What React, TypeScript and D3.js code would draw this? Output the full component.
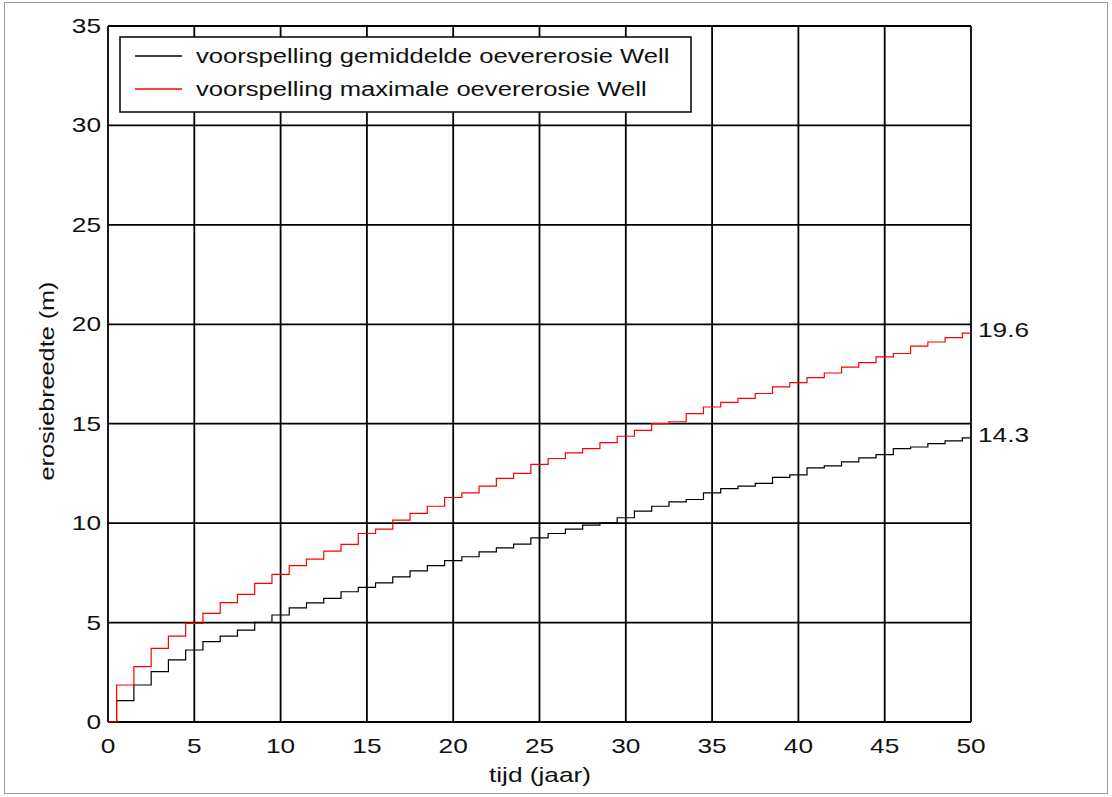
import React from "react";
import * as d3 from "d3";

// jaren (x)
const tijd = [
  0, 1, 2, 3, 4, 5, 6, 7, 8, 9, 10, 11, 12, 13, 14, 15, 16, 17, 18, 19, 20,
  21, 22, 23, 24, 25, 26, 27, 28, 29, 30, 31, 32, 33, 34, 35, 36, 37, 38, 39,
  40, 41, 42, 43, 44, 45, 46, 47, 48, 49, 50,
];

// voorspelling gemiddelde oevererosie (m)
const gemiddeld = [
  0, 1.07, 1.86, 2.53, 3.12, 3.62, 4.04, 4.32, 4.62, 5.01, 5.38, 5.74, 5.99,
  6.22, 6.55, 6.77, 7.0, 7.3, 7.6, 7.86, 8.12, 8.31, 8.56, 8.76, 8.94, 9.26,
  9.48, 9.7, 9.9, 10.02, 10.27, 10.6, 10.85, 11.07, 11.19, 11.52, 11.74, 11.86,
  12.0, 12.3, 12.43, 12.78, 12.88, 13.08, 13.28, 13.45, 13.75, 13.83, 14.0,
  14.14, 14.29,
];

// voorspelling maximale oevererosie (m)
const maximaal = [
  0, 1.86, 2.78, 3.7, 4.32, 4.96, 5.46, 6.0, 6.42, 6.97, 7.42, 7.86, 8.19,
  8.59, 8.93, 9.48, 9.7, 10.15, 10.49, 10.85, 11.29, 11.52, 11.86, 12.25, 12.5,
  12.96, 13.25, 13.53, 13.75, 14.05, 14.37, 14.67, 15.0, 15.1, 15.51, 15.84,
  16.07, 16.27, 16.52, 16.85, 17.07, 17.32, 17.55, 17.85, 18.07, 18.36, 18.53,
  18.9, 19.11, 19.33, 19.56,
];

const xTicks = [0, 5, 10, 15, 20, 25, 30, 35, 40, 45, 50];
const yTicks = [0, 5, 10, 15, 20, 25, 30, 35];
const legendLabels = [
  "voorspelling gemiddelde oevererosie Well",
  "voorspelling maximale oevererosie Well",
];
const endLabels = ["14.3", "19.6"];

const FONT = "'Liberation Sans', Arial, sans-serif";

// stretched text, the original looks horizontally widened
const T = ({ x, y, anchor = "start", sx = 1.25, rotate = 0, children }: any) => (
  <text
    transform={`translate(${x},${y}) rotate(${rotate}) scale(${sx},1)`}
    textAnchor={anchor}
    fontFamily={FONT}
    fontSize={21}
    fill="#111"
  >
    {children}
  </text>
);

export default function App() {
  const width = 1112;
  const height = 797;

  const x = d3.scaleLinear().domain([0, 50]).range([108, 971]);
  const y = d3.scaleLinear().domain([0, 35]).range([722, 26]);

  const line = d3
    .line<number>()
    .x((d, i) => x(tijd[i]))
    .y((d) => y(d))
    .curve(d3.curveStep);

  const series = [
    { values: gemiddeld, color: "#000", label: legendLabels[0], end: endLabels[0] },
    { values: maximaal, color: "#ff0000", label: legendLabels[1], end: endLabels[1] },
  ];

  return (
    <div style={{ position: "absolute", left: 0, top: 0 }}>
      <svg width={width} height={height} style={{ display: "block", background: "#fff" }}>
        {/* outer frame of the picture */}
        <rect x={4.5} y={2.5} width={1103} height={791} fill="none" stroke="#9a9a9a" strokeWidth={1} />

        {/* grid */}
        {xTicks.map((t) => (
          <line key={"gx" + t} x1={x(t)} x2={x(t)} y1={y(0)} y2={y(35)} stroke="#000" strokeWidth={1.8} />
        ))}
        {yTicks.map((t) => (
          <line key={"gy" + t} x1={x(0)} x2={x(50)} y1={y(t)} y2={y(t)} stroke="#000" strokeWidth={1.8} />
        ))}

        {/* lines */}
        {series.map((s) => (
          <path key={s.label} d={line(s.values) || ""} fill="none" stroke={s.color} strokeWidth={1.2} />
        ))}

        {/* tick labels */}
        {yTicks.map((t) => (
          <T key={"yl" + t} x={101} y={y(t) + 7} anchor="end">
            {t}
          </T>
        ))}
        {xTicks.map((t) => (
          <T key={"xl" + t} x={x(t)} y={753} anchor="middle">
            {t}
          </T>
        ))}

        {/* axis titles */}
        <T x={540} y={782} anchor="middle">
          tijd (jaar)
        </T>
        <T x={54} y={381} anchor="middle" rotate={-90} sx={1.2}>
          erosiebreedte (m)
        </T>

        {/* end values */}
        {series.map((s) => (
          <T key={"end" + s.end} x={978} y={y(s.values[s.values.length - 1]) + 4}>
            {s.end}
          </T>
        ))}

        {/* legend */}
        <rect x={120} y={37} width={571} height={75} fill="#fff" stroke="#000" strokeWidth={1.5} />
        {series.map((s, i) => (
          <g key={"lg" + i}>
            <line x1={135} x2={182} y1={56 + i * 33} y2={56 + i * 33} stroke={s.color} strokeWidth={1.3} />
            <T x={196} y={63 + i * 33} sx={1.22}>
              {s.label}
            </T>
          </g>
        ))}
      </svg>
    </div>
  );
}
